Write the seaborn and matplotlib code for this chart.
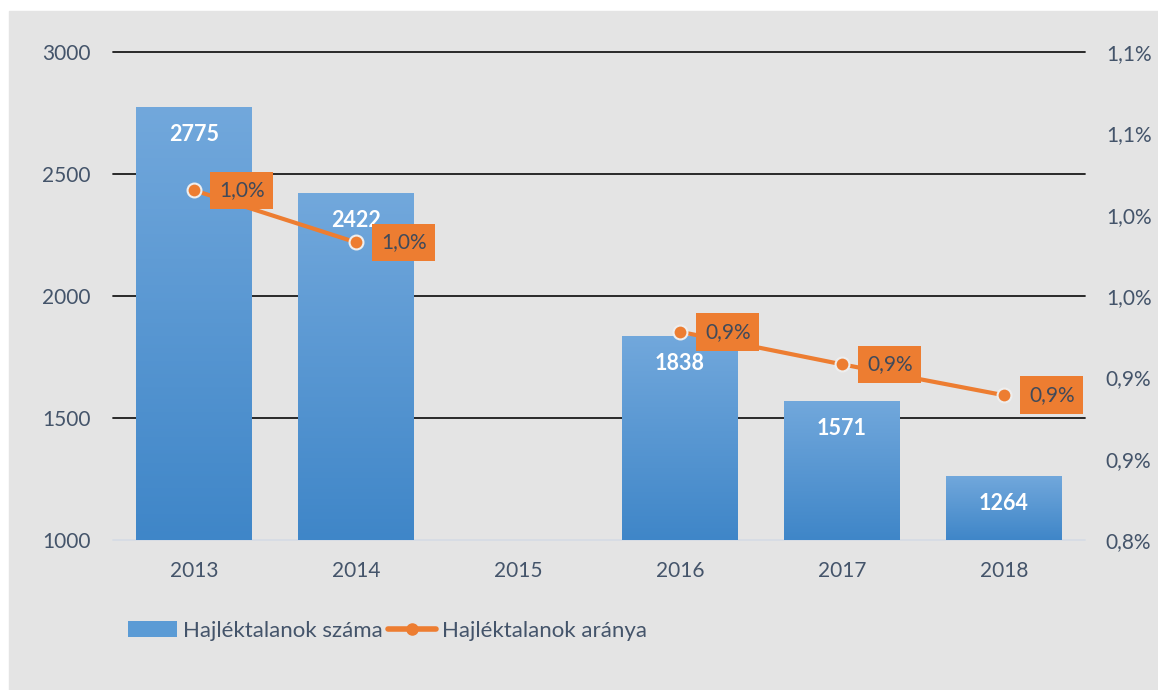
import numpy as np
import pandas as pd
import matplotlib
matplotlib.use("Agg")
import matplotlib.pyplot as plt
import seaborn as sns
from matplotlib.patches import Patch, Rectangle
from matplotlib.lines import Line2D
from matplotlib.colors import LinearSegmentedColormap

# --- adatok ---
years = ["2013", "2014", "2015", "2016", "2017", "2018"]
homeless_count = [2775, 2422, np.nan, 1838, 1571, 1264]
homeless_rate = [1.015, 0.983, np.nan, 0.928, 0.908, 0.889]  # százalék
left_ticks = [1000, 1500, 2000, 2500, 3000]
right_ticks = [0.80, 0.85, 0.90, 0.95, 1.00, 1.05, 1.10]
right_labels = ["0,8%", "0,9%", "0,9%", "1,0%", "1,0%", "1,1%", "1,1%"]
legend_labels = ["Hajléktalanok száma", "Hajléktalanok aránya"]

BLUE = "#5b9bd5"
ORANGE = "#ed7d31"
TEXT = "#44546a"
FS = 15

sns.set_style("white")
plt.rcParams["font.family"] = ["Lato", "DejaVu Sans"]

df_bars = pd.DataFrame({"year": years, "count": homeless_count}).dropna()
# a vonal megszakad 2015-nél -> két szakasz
seg, s = [], 0
for r in homeless_rate:
    if np.isnan(r):
        s += 1
    seg.append(s)
df_line = pd.DataFrame({"pos": range(len(years)), "rate": homeless_rate, "segment": seg}).dropna()

fig = plt.figure(figsize=(11.58, 6.9), dpi=100)
fig.patch.set_facecolor("white")
fig.patches.append(Rectangle((9 / 1158, 0), 1, 1 - 11 / 690, transform=fig.transFigure,
                             color="#e4e4e4", zorder=-10))

ax = fig.add_axes([113 / 1158, 150 / 690, 972 / 1158, 488 / 690])
ax.set_facecolor("none")
sns.barplot(data=df_bars, x="year", y="count", order=years, color=BLUE,
            saturation=1, width=0.716, ax=ax, zorder=2, linewidth=0, edgecolor="none")

ymin, ymax = 1000, 3000
# színátmenetes oszlopok
cmap = LinearSegmentedColormap.from_list("bar_grad", ["#3f86c8", "#72a8dc"])
for p in list(ax.patches):
    x0, w = p.get_x(), p.get_width()
    y0 = max(p.get_y(), ymin)
    y1 = p.get_y() + p.get_height()
    im = ax.imshow(np.linspace(0, 1, 256).reshape(-1, 1), extent=[x0, x0 + w, y0, y1],
                   origin="lower", cmap=cmap, aspect="auto", zorder=2.5)
    im.set_clip_path(p)

ax.set_xlim(-0.5, len(years) - 0.5)
ax.set_ylim(ymin, ymax)
ax.set_yticks(left_ticks)
ax.set_xlabel("")
ax.set_ylabel("")
ax.grid(axis="y", color="#1a1a1a", lw=1.3)
ax.set_axisbelow(True)
for gl in ax.yaxis.get_gridlines():
    gl.set_clip_on(False)
ax.yaxis.get_gridlines()[0].set_color("#d6dce4")
for sp in ax.spines.values():
    sp.set_visible(False)
ax.tick_params(axis="y", length=0, pad=16, labelsize=FS, labelcolor=TEXT)
ax.tick_params(axis="x", length=0, pad=15, labelsize=FS, labelcolor=TEXT)

for i, c in enumerate(homeless_count):
    if not np.isnan(c):
        ax.annotate(f"{c:.0f}", (i, c), xytext=(0, -20), textcoords="offset points",
                    ha="center", va="center", color="white", fontweight="bold",
                    fontsize=15.5, zorder=4)

# arány (jobb tengely)
ax2 = ax.twinx()
ax2.set_facecolor("none")
sns.lineplot(data=df_line, x="pos", y="rate", units="segment", estimator=None,
             color=ORANGE, lw=3, marker="o", markersize=10, markeredgecolor="#eeeeee",
             markeredgewidth=1.5, ax=ax2, legend=False, zorder=5)
ax2.set_ylim(0.80, 1.10)
ax2.set_yticks(right_ticks)
ax2.set_yticklabels(right_labels)
ax2.set_xlim(-0.5, len(years) - 0.5)
ax2.set_ylabel("")
ax2.set_xlabel("")
for sp in ax2.spines.values():
    sp.set_visible(False)
ax2.tick_params(axis="y", length=0, pad=15, labelsize=FS, labelcolor=TEXT)

for i, r in enumerate(homeless_rate):
    if not np.isnan(r):
        lbl = f"{r:.1f}".replace(".", ",") + "%"
        ax2.annotate(lbl, (i, r), xytext=(34.5, 0), textcoords="offset points",
                     ha="center", va="center", color="#404a5a", fontsize=FS, zorder=6,
                     bbox=dict(boxstyle="square,pad=0.42", fc=ORANGE, ec="none"))

handles = [Patch(facecolor=BLUE, edgecolor="none"),
           Line2D([], [], color=ORANGE, lw=4, marker="o", markersize=8)]
fig.legend(handles, legend_labels, loc="center left", bbox_to_anchor=(128 / 1158, 59 / 690),
           frameon=False, ncol=2, fontsize=16, handlelength=2.2, handletextpad=0.27,
           columnspacing=0.22, borderpad=0, borderaxespad=0, labelcolor=TEXT)

fig.savefig("out.png", dpi=100)
